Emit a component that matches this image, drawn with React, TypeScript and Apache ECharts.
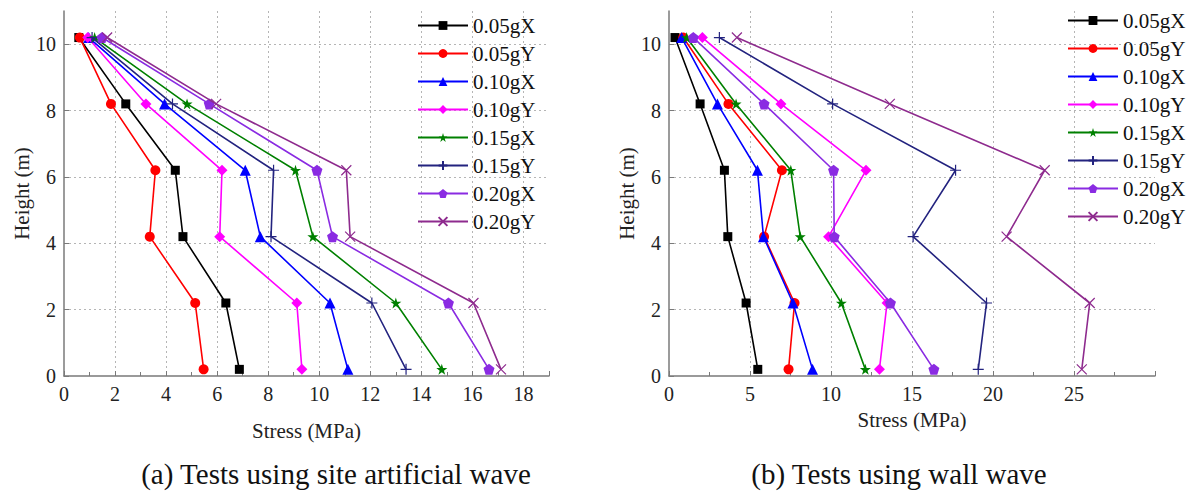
import React, { useEffect, useRef } from "react";
import * as echarts from "echarts";

// Floor heights (m), bottom to top
const heights = [0.2, 2.2, 4.2, 6.2, 8.2, 10.2];

const seriesNames = ["0.05gX", "0.05gY", "0.10gX", "0.10gY", "0.15gX", "0.15gY", "0.20gX", "0.20gY"];

// (a) site artificial wave: stress (MPa) at each height, bottom to top
const siteX005 = [6.87, 6.34, 4.66, 4.36, 2.42, 0.58];
const siteY005 = [5.47, 5.14, 3.36, 3.58, 1.84, 0.62];
const siteX010 = [11.12, 10.42, 7.69, 7.1, 3.94, 0.97];
const siteY010 = [9.32, 9.12, 6.1, 6.19, 3.21, 0.93];
const siteX015 = [14.8, 13.0, 9.75, 9.07, 4.82, 1.2];
const siteY015 = [13.4, 12.06, 8.11, 8.21, 4.25, 1.1];
const siteX020 = [16.65, 15.06, 10.52, 9.91, 5.69, 1.49];
const siteY020 = [17.12, 16.04, 11.21, 11.06, 5.96, 1.69];

// (b) wall wave: stress (MPa) at each height, bottom to top
const wallX005 = [5.48, 4.76, 3.63, 3.42, 1.92, 0.37];
const wallY005 = [7.38, 7.75, 5.87, 6.97, 3.67, 0.88];
const wallX010 = [8.86, 7.65, 5.83, 5.46, 2.99, 0.78];
const wallY010 = [12.99, 13.46, 9.85, 12.16, 6.91, 2.06];
const wallX015 = [12.12, 10.64, 8.1, 7.52, 4.14, 1.09];
const wallY015 = [19.09, 19.6, 15.07, 17.69, 10.1, 3.11];
const wallX020 = [16.35, 13.67, 10.2, 10.16, 5.87, 1.5];
const wallY020 = [25.48, 25.97, 20.84, 23.19, 13.63, 4.19];

const siteSets = [siteX005, siteY005, siteX010, siteY010, siteX015, siteY015, siteX020, siteY020];
const wallSets = [wallX005, wallY005, wallX010, wallY010, wallX015, wallY015, wallX020, wallY020];

const captionA = "(a) Tests using site artificial wave";
const captionB = "(b) Tests using wall wave";

const colors = ["#000000", "#ff0000", "#0000ff", "#ff00ff", "#008000", "#23237f", "#8a2be2", "#8e2b8e"];

const STAR = "path://M50,0 L61.8,35.4 L99,35.4 L69.1,57.3 L80.3,92.7 L50,70.8 L19.7,92.7 L30.9,57.3 L1,35.4 L38.2,35.4 Z";
const PENTAGON = "path://M50,0 L97.6,34.5 L79.4,90.5 L20.6,90.5 L2.4,34.5 Z";
const PLUS = "path://M50,0 L50,100 M0,50 L100,50";
const CROSS = "path://M0,0 L100,100 M0,100 L100,0";

const symbols = ["rect", "circle", "triangle", "diamond", STAR, PLUS, PENTAGON, CROSS];
const symbolSizes = [9, 10, 11, 11, 11, 11, 11, 10];
const hollow = [false, false, false, false, false, true, false, true];

const SERIF = "Liberation Serif";
const AXIS_GRAY = "#7a7a7a";

function buildAxisX(idx: number, max: number, interval: number, nameGap: number) {
  return {
    type: "value",
    gridIndex: idx,
    min: 0,
    max,
    interval,
    name: "Stress (MPa)",
    nameLocation: "middle",
    nameGap,
    nameTextStyle: { fontFamily: SERIF, fontSize: 21, color: "#222" },
    axisLine: { show: true, onZero: false, lineStyle: { color: AXIS_GRAY, width: 1.5 } },
    axisTick: { show: true, inside: true, length: 5, lineStyle: { color: AXIS_GRAY, width: 1 } },
    minorTick: { show: true, splitNumber: 2, length: 4, lineStyle: { color: AXIS_GRAY, width: 1 } },
    axisLabel: { fontFamily: SERIF, fontSize: 20, color: "#222", margin: 8, showMaxLabel: false },
    splitLine: {
      show: true,
      showMinLine: false,
      showMaxLine: false,
      lineStyle: { color: "#b5b5b5", type: [2, 3], width: 1 },
    },
  };
}

function buildAxisY(idx: number, nameGap: number) {
  return {
    type: "value",
    gridIndex: idx,
    min: 0,
    max: 11,
    interval: 2,
    name: "Height (m)",
    nameLocation: "middle",
    nameGap,
    nameTextStyle: { fontFamily: SERIF, fontSize: 21, color: "#222" },
    axisLine: { show: true, onZero: false, lineStyle: { color: AXIS_GRAY, width: 1.5 } },
    axisTick: { show: true, inside: true, length: 5, lineStyle: { color: AXIS_GRAY, width: 1 } },
    axisLabel: { fontFamily: SERIF, fontSize: 20, color: "#222", margin: 8, showMaxLabel: false },
    splitLine: {
      show: true,
      showMinLine: false,
      showMaxLine: false,
      lineStyle: { color: "#b5b5b5", type: [2, 3], width: 1 },
    },
  };
}

function buildSeries(sets: number[][], gridIdx: number) {
  return sets.map((vals, i) => ({
    type: "line",
    name: seriesNames[i],
    xAxisIndex: gridIdx,
    yAxisIndex: gridIdx,
    data: vals.map((v, k) => [v, heights[k]]),
    symbol: symbols[i],
    symbolSize: symbolSizes[i],
    showAllSymbol: true,
    lineStyle: { color: colors[i], width: 1.6 },
    itemStyle: hollow[i]
      ? { color: "rgba(0,0,0,0)", borderColor: colors[i], borderWidth: 1.2 }
      : { color: colors[i], borderColor: colors[i], borderWidth: 0 },
    z: 2 + i,
  }));
}

function buildLegend(left: number, top: number) {
  return {
    show: true,
    orient: "vertical",
    left,
    top,
    itemWidth: 50,
    itemHeight: 11,
    itemGap: 7,
    data: seriesNames,
    selectedMode: false,
    textStyle: { fontFamily: SERIF, fontSize: 21, color: "#111", lineHeight: 21 },
  };
}

export default function App() {
  const ref = useRef<HTMLDivElement>(null);

  useEffect(() => {
    document.body.style.margin = "0";
    if (!ref.current) return;
    const chart = echarts.init(ref.current, null, { renderer: "svg" });
    chart.setOption({
      animation: false,
      backgroundColor: "#ffffff",
      textStyle: { fontFamily: SERIF },
      grid: [
        { left: 64, top: 11, width: 485, height: 365 },
        { left: 669, top: 11, width: 486, height: 365 },
      ],
      xAxis: [buildAxisX(0, 19, 2, 44), buildAxisX(1, 30, 5, 33)],
      yAxis: [buildAxisY(0, 22), buildAxisY(1, 9)],
      legend: [buildLegend(412, 10), buildLegend(1062, 5)],
      series: [...buildSeries(siteSets, 0), ...buildSeries(wallSets, 1)],
      graphic: [
        {
          type: "text",
          x: 336,
          y: 474,
          style: {
            text: captionA,
            fontFamily: SERIF,
            fontSize: 29,
            fill: "#111",
            textAlign: "center",
            textVerticalAlign: "middle",
          },
        },
        {
          type: "text",
          x: 899,
          y: 474,
          style: {
            text: captionB,
            fontFamily: SERIF,
            fontSize: 29,
            fill: "#111",
            textAlign: "center",
            textVerticalAlign: "middle",
          },
        },
      ],
    });
    return () => chart.dispose();
  }, []);

  return <div ref={ref} style={{ width: 1186, height: 491 }} />;
}
